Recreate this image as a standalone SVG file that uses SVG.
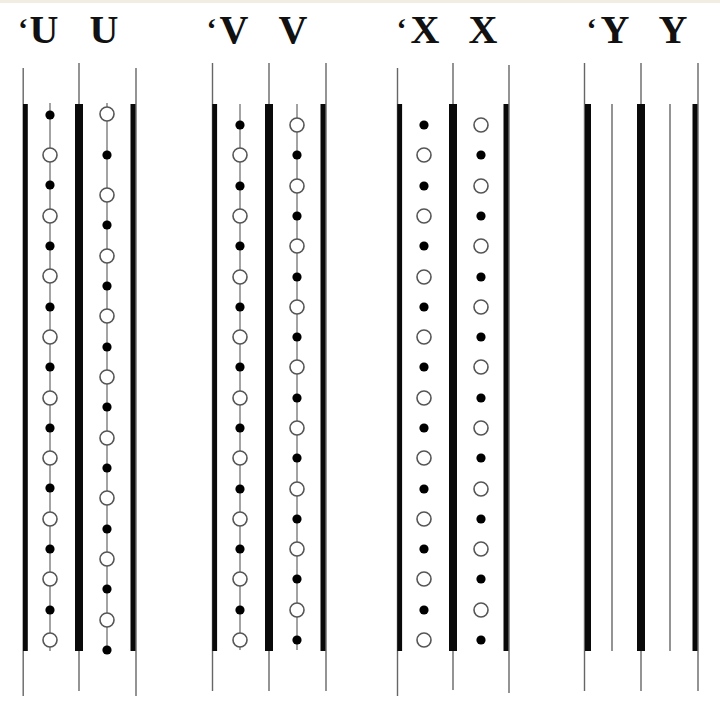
<svg xmlns="http://www.w3.org/2000/svg" xmlns:xlink="http://www.w3.org/1999/xlink" width="720" height="702" viewBox="0 0 720 702">
<style>
.bg{fill:#ffffff}
.strip{fill:#f1ede3}
.lbl{font-family:"Liberation Serif","Times New Roman",serif;font-weight:bold;font-size:40px;fill:#111;text-anchor:middle}
.ap{font-family:"Liberation Serif","Times New Roman",serif;font-weight:bold;font-size:30px;fill:#111;text-anchor:middle}
.thin{stroke:#666;stroke-width:1.4;fill:none}
.bar{fill:#0a0a0a}
.link{stroke:#666;stroke-width:1.2;fill:none}
.f{fill:#000}
.o{fill:#fff;stroke:#555;stroke-width:1.6}
</style>
<defs>
<circle id="fd" class="f" r="4.6"/>
<circle id="od" class="o" r="7"/>
</defs>
<rect class="bg" x="0" y="0" width="720" height="702"/>
<rect class="strip" x="0" y="0" width="720" height="3"/>

<g id="labels">
<text class="ap" x="23" y="39">‘</text><text class="lbl" x="44" y="43">U</text>
<text class="lbl" x="104" y="43">U</text>
<text class="ap" x="211.5" y="39">‘</text><text class="lbl" x="234" y="43">V</text>
<text class="lbl" x="293" y="43">V</text>
<text class="ap" x="401.5" y="39">‘</text><text class="lbl" x="425" y="43">X</text>
<text class="lbl" x="483" y="43">X</text>
<text class="ap" x="591.5" y="39">‘</text><text class="lbl" x="615" y="43">Y</text>
<text class="lbl" x="673" y="43">Y</text>
</g>

<g id="group-U">
<line class="thin" x1="23.2" y1="68" x2="23.2" y2="696"/>
<rect class="bar" x="23" y="104" width="4.8" height="547"/>
<line class="thin" x1="79" y1="63" x2="79" y2="691"/>
<rect class="bar" x="75" y="104" width="8" height="547"/>
<line class="thin" x1="136" y1="68" x2="136" y2="696"/>
<rect class="bar" x="130.5" y="104" width="5" height="547"/>
</g>

<g id="group-V">
<line class="thin" x1="212.5" y1="63" x2="212.5" y2="691"/>
<rect class="bar" x="212.3" y="104" width="4.8" height="547"/>
<line class="thin" x1="269" y1="63" x2="269" y2="691"/>
<rect class="bar" x="265" y="104" width="8" height="547"/>
<line class="thin" x1="326" y1="63" x2="326" y2="691"/>
<rect class="bar" x="320.5" y="104" width="5" height="547"/>
</g>

<g id="group-X">
<line class="thin" x1="397.5" y1="68" x2="397.5" y2="696"/>
<rect class="bar" x="397.3" y="104" width="4.8" height="547"/>
<line class="thin" x1="453" y1="63" x2="453" y2="690"/>
<rect class="bar" x="449" y="104" width="8" height="547"/>
<line class="thin" x1="509" y1="65" x2="509" y2="693"/>
<rect class="bar" x="503.5" y="104" width="5" height="547"/>
</g>

<g id="group-Y">
<line class="thin" x1="584.5" y1="63" x2="584.5" y2="691"/>
<rect class="bar" x="585" y="104" width="6" height="547"/>
<line class="thin" x1="612" y1="104" x2="612" y2="651"/>
<line class="thin" x1="641" y1="63" x2="641" y2="691"/>
<rect class="bar" x="637" y="104" width="8" height="547"/>
<line class="thin" x1="670" y1="104" x2="670" y2="651"/>
<line class="thin" x1="698" y1="63" x2="698" y2="691"/>
<rect class="bar" x="692.5" y="104" width="5" height="547"/>
</g>

<g id="connectors">
<line class="link" x1="50" y1="103" x2="50" y2="651"/>
<line class="link" x1="107" y1="103" x2="107" y2="650"/>
<line class="link" x1="240" y1="104" x2="240" y2="650"/>
<line class="link" x1="297" y1="104" x2="297" y2="650"/>
</g>

<g id="column-U1">
<use xlink:href="#fd" x="50" y="115"/>
<use xlink:href="#od" x="50" y="155"/>
<use xlink:href="#fd" x="50" y="185"/>
<use xlink:href="#od" x="50" y="216"/>
<use xlink:href="#fd" x="50" y="246"/>
<use xlink:href="#od" x="50" y="276"/>
<use xlink:href="#fd" x="50" y="307"/>
<use xlink:href="#od" x="50" y="337"/>
<use xlink:href="#fd" x="50" y="367"/>
<use xlink:href="#od" x="50" y="398"/>
<use xlink:href="#fd" x="50" y="428"/>
<use xlink:href="#od" x="50" y="458"/>
<use xlink:href="#fd" x="50" y="488"/>
<use xlink:href="#od" x="50" y="519"/>
<use xlink:href="#fd" x="50" y="549"/>
<use xlink:href="#od" x="50" y="579"/>
<use xlink:href="#fd" x="50" y="610"/>
<use xlink:href="#od" x="50" y="640"/>
</g>

<g id="column-U2">
<use xlink:href="#od" x="107" y="114"/>
<use xlink:href="#fd" x="107" y="155"/>
<use xlink:href="#od" x="107" y="195"/>
<use xlink:href="#fd" x="107" y="225"/>
<use xlink:href="#od" x="107" y="256"/>
<use xlink:href="#fd" x="107" y="286"/>
<use xlink:href="#od" x="107" y="316"/>
<use xlink:href="#fd" x="107" y="347"/>
<use xlink:href="#od" x="107" y="377"/>
<use xlink:href="#fd" x="107" y="407"/>
<use xlink:href="#od" x="107" y="438"/>
<use xlink:href="#fd" x="107" y="468"/>
<use xlink:href="#od" x="107" y="498"/>
<use xlink:href="#fd" x="107" y="529"/>
<use xlink:href="#od" x="107" y="559"/>
<use xlink:href="#fd" x="107" y="589"/>
<use xlink:href="#od" x="107" y="620"/>
<use xlink:href="#fd" x="107" y="650"/>
</g>

<g id="column-V1">
<use xlink:href="#fd" x="240" y="125"/>
<use xlink:href="#od" x="240" y="155"/>
<use xlink:href="#fd" x="240" y="186"/>
<use xlink:href="#od" x="240" y="216"/>
<use xlink:href="#fd" x="240" y="246"/>
<use xlink:href="#od" x="240" y="277"/>
<use xlink:href="#fd" x="240" y="307"/>
<use xlink:href="#od" x="240" y="337"/>
<use xlink:href="#fd" x="240" y="367"/>
<use xlink:href="#od" x="240" y="398"/>
<use xlink:href="#fd" x="240" y="428"/>
<use xlink:href="#od" x="240" y="458"/>
<use xlink:href="#fd" x="240" y="489"/>
<use xlink:href="#od" x="240" y="519"/>
<use xlink:href="#fd" x="240" y="549"/>
<use xlink:href="#od" x="240" y="579"/>
<use xlink:href="#fd" x="240" y="610"/>
<use xlink:href="#od" x="240" y="640"/>
</g>

<g id="column-V2">
<use xlink:href="#od" x="297" y="125"/>
<use xlink:href="#fd" x="297" y="155"/>
<use xlink:href="#od" x="297" y="186"/>
<use xlink:href="#fd" x="297" y="216"/>
<use xlink:href="#od" x="297" y="246"/>
<use xlink:href="#fd" x="297" y="277"/>
<use xlink:href="#od" x="297" y="307"/>
<use xlink:href="#fd" x="297" y="337"/>
<use xlink:href="#od" x="297" y="367"/>
<use xlink:href="#fd" x="297" y="398"/>
<use xlink:href="#od" x="297" y="428"/>
<use xlink:href="#fd" x="297" y="458"/>
<use xlink:href="#od" x="297" y="489"/>
<use xlink:href="#fd" x="297" y="519"/>
<use xlink:href="#od" x="297" y="549"/>
<use xlink:href="#fd" x="297" y="579"/>
<use xlink:href="#od" x="297" y="610"/>
<use xlink:href="#fd" x="297" y="640"/>
</g>

<g id="column-X1">
<use xlink:href="#fd" x="424" y="125"/>
<use xlink:href="#od" x="424" y="155"/>
<use xlink:href="#fd" x="424" y="186"/>
<use xlink:href="#od" x="424" y="216"/>
<use xlink:href="#fd" x="424" y="246"/>
<use xlink:href="#od" x="424" y="277"/>
<use xlink:href="#fd" x="424" y="307"/>
<use xlink:href="#od" x="424" y="337"/>
<use xlink:href="#fd" x="424" y="367"/>
<use xlink:href="#od" x="424" y="398"/>
<use xlink:href="#fd" x="424" y="428"/>
<use xlink:href="#od" x="424" y="458"/>
<use xlink:href="#fd" x="424" y="489"/>
<use xlink:href="#od" x="424" y="519"/>
<use xlink:href="#fd" x="424" y="549"/>
<use xlink:href="#od" x="424" y="579"/>
<use xlink:href="#fd" x="424" y="610"/>
<use xlink:href="#od" x="424" y="640"/>
</g>

<g id="column-X2">
<use xlink:href="#od" x="481" y="125"/>
<use xlink:href="#fd" x="481" y="155"/>
<use xlink:href="#od" x="481" y="186"/>
<use xlink:href="#fd" x="481" y="216"/>
<use xlink:href="#od" x="481" y="246"/>
<use xlink:href="#fd" x="481" y="277"/>
<use xlink:href="#od" x="481" y="307"/>
<use xlink:href="#fd" x="481" y="337"/>
<use xlink:href="#od" x="481" y="367"/>
<use xlink:href="#fd" x="481" y="398"/>
<use xlink:href="#od" x="481" y="428"/>
<use xlink:href="#fd" x="481" y="458"/>
<use xlink:href="#od" x="481" y="489"/>
<use xlink:href="#fd" x="481" y="519"/>
<use xlink:href="#od" x="481" y="549"/>
<use xlink:href="#fd" x="481" y="579"/>
<use xlink:href="#od" x="481" y="610"/>
<use xlink:href="#fd" x="481" y="640"/>
</g>
</svg>
